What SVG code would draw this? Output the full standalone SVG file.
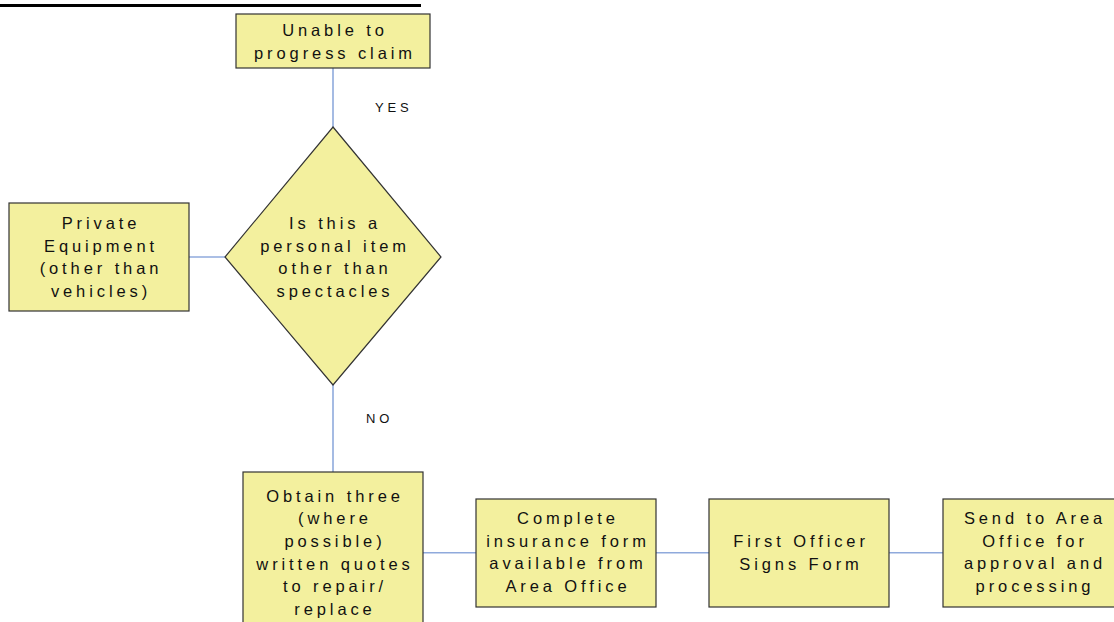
<svg xmlns="http://www.w3.org/2000/svg" width="1114" height="622" viewBox="0 0 1114 622">
<style>
.box{fill:#F3F09E;stroke:#333333;stroke-width:1.2}
.t{font-family:"Liberation Sans",Arial,sans-serif;font-size:16.5px;letter-spacing:3.9px;fill:#111;text-anchor:middle}
.lbl{font-family:"Liberation Sans",Arial,sans-serif;font-size:13px;letter-spacing:3.8px;fill:#111}
.c{stroke:#8FAADC;stroke-width:1.6;fill:none}
</style>
<rect x="0" y="0" width="1114" height="622" fill="#ffffff"/>
<rect x="0" y="4" width="421" height="3" fill="#000"/>
<g id="connectors">
<line class="c" x1="333" y1="68" x2="333" y2="127"/>
<line class="c" x1="189" y1="257" x2="225" y2="257"/>
<line class="c" x1="333" y1="385" x2="333" y2="472"/>
<line class="c" x1="423" y1="552.7" x2="476" y2="552.7"/>
<line class="c" x1="656" y1="552.7" x2="709" y2="552.7"/>
<line class="c" x1="889" y1="552.7" x2="943" y2="552.7"/>
<text class="lbl" x="375" y="112">YES</text>
<text class="lbl" x="366" y="423">NO</text>
</g>
<g id="unable">
<rect class="box" x="236" y="14" width="194" height="54"/>
<text class="t" x="335" y="36">Unable to</text>
<text class="t" x="335" y="59">progress claim</text>
</g>
<g id="decision">
<polygon class="box" points="333,127 441,257 333,385 225,257"/>
<text class="t" x="335" y="229">Is this a</text>
<text class="t" x="335" y="251.6">personal item</text>
<text class="t" x="335" y="274.2">other than</text>
<text class="t" x="335" y="296.8">spectacles</text>
</g>
<g id="private">
<rect class="box" x="9" y="203" width="180" height="108"/>
<text class="t" x="101" y="229">Private</text>
<text class="t" x="101" y="251.6">Equipment</text>
<text class="t" x="101" y="274.2">(other than</text>
<text class="t" x="101" y="296.8">vehicles)</text>
</g>
<g id="obtain">
<rect class="box" x="243" y="472" width="180" height="160"/>
<text class="t" x="335" y="501.5">Obtain three</text>
<text class="t" x="335" y="524.2">(where</text>
<text class="t" x="335" y="546.9">possible)</text>
<text class="t" x="335" y="569.6">written quotes</text>
<text class="t" x="335" y="592.3">to repair/</text>
<text class="t" x="335" y="615">replace</text>
</g>
<g id="complete">
<rect class="box" x="476" y="499" width="180" height="108"/>
<text class="t" x="568" y="524">Complete</text>
<text class="t" x="568" y="546.7">insurance form</text>
<text class="t" x="568" y="569.4">available from</text>
<text class="t" x="568" y="592">Area Office</text>
</g>
<g id="first-officer">
<rect class="box" x="709" y="499" width="180" height="108"/>
<text class="t" x="801" y="547">First Officer</text>
<text class="t" x="801" y="569.6">Signs Form</text>
</g>
<g id="send">
<rect class="box" x="943" y="499" width="180" height="108"/>
<text class="t" x="1035" y="524">Send to Area</text>
<text class="t" x="1035" y="546.7">Office for</text>
<text class="t" x="1035" y="569.4">approval and</text>
<text class="t" x="1035" y="592">processing</text>
</g>
</svg>
